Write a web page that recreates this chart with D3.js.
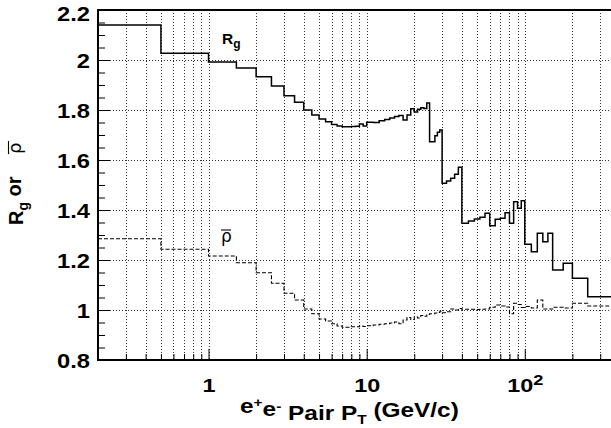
<!DOCTYPE html>
<html>
<head>
<meta charset="utf-8">
<script src="https://cdn.jsdelivr.net/npm/d3@7"></script>
<style>
  html, body { margin: 0; padding: 0; background: #fff; }
  svg { display: block; font-family: "Liberation Sans", Arial, Helvetica, sans-serif; }
</style>
</head>
<body>
<svg id="chart" width="611" height="428"></svg>
<script>
// ---- data ----
const binEdges = [0.2, 0.5, 1.0, 1.5, 2.0, 2.5, 3.0, 3.5, 4.0, 4.5, 5.0, 5.5, 6.0, 6.5, 7.0, 7.5, 8.0, 8.5, 9.0, 9.5,
  10, 11, 12, 13, 14, 15, 16, 17, 18, 19, 20, 21, 22, 23, 24, 25, 27, 28, 29, 30, 32, 34, 36, 38, 40,
  44, 48, 52, 56, 60, 65, 70, 75, 80, 85, 90, 95, 100, 110, 120, 130, 140, 150, 175, 200, 250, 400];

const rgValues = [2.140, 2.027, 1.992, 1.968, 1.933, 1.896, 1.857, 1.831, 1.800, 1.780,
  1.764, 1.753, 1.742, 1.736, 1.733, 1.733, 1.734, 1.735, 1.744, 1.736,
  1.751, 1.750, 1.757, 1.762, 1.768, 1.774, 1.778, 1.760, 1.780, 1.805,
  1.792, 1.803, 1.809, 1.806, 1.828, 1.673, 1.697, 1.711, 1.720,
  1.507, 1.516, 1.527, 1.543, 1.571,
  1.347, 1.356, 1.364, 1.371, 1.387,
  1.337, 1.363, 1.367, 1.389, 1.347, 1.433, 1.407, 1.437,
  1.263, 1.233, 1.307, 1.273, 1.307, 1.160, 1.187, 1.127, 1.053];

const rhoValues = [1.285, 1.243, 1.216, 1.189, 1.149, 1.107, 1.067, 1.040, 1.004, 0.985,
  0.964, 0.956, 0.945, 0.936, 0.931, 0.931, 0.933, 0.933, 0.936, 0.934,
  0.937, 0.940, 0.943, 0.945, 0.948, 0.952, 0.945, 0.960, 0.970, 0.962,
  0.972, 0.968, 0.978, 0.975, 0.982, 0.985, 0.988, 0.990, 0.995,
  0.989, 0.993, 1.004, 1.000, 1.006,
  1.003, 1.003, 1.002, 1.003, 1.004,
  1.011, 1.020, 1.016, 1.012, 0.985, 1.027, 1.022, 1.010,
  1.014, 1.008, 1.040, 1.004, 1.004, 1.011, 1.008, 1.027, 1.016];

const xMajorTicks = [1, 10, 100];
const xTickLabels = ["1", "10", "10^2"];
const xMinorTicks = [0.3, 0.4, 0.5, 0.6, 0.7, 0.8, 0.9, 2, 3, 4, 5, 6, 7, 8, 9,
  20, 30, 40, 50, 60, 70, 80, 90, 200, 300];
const yMajorTicks = [0.8, 1.0, 1.2, 1.4, 1.6, 1.8, 2.0, 2.2];
const yTickLabels = ["0.8", "1", "1.2", "1.4", "1.6", "1.8", "2", "2.2"];
const yMinorTicks = d3.range(0.85, 2.2, 0.05).map(v => +v.toFixed(2)).filter(v => !yMajorTicks.some(m => Math.abs(m - v) < 1e-6));

// ---- layout ----
const svg = d3.select("#chart");
const pL = 98, pR = 620, pT = 10, pB = 360;
const x = d3.scaleLog().domain([0.2, 400]).range([pL, pR]);
const y = d3.scaleLinear().domain([0.8, 2.2]).range([pB, pT]);

svg.append("defs").append("clipPath").attr("id", "plotclip")
  .append("rect").attr("x", pL).attr("y", pT).attr("width", pR - pL).attr("height", pB - pT);

// grid
const grid = svg.append("g").attr("stroke", "#000").attr("stroke-width", 1)
  .attr("stroke-dasharray", "1,2").attr("shape-rendering", "crispEdges");
grid.selectAll("line.vx").data(xMajorTicks.concat(xMinorTicks)).join("line")
  .attr("x1", d => Math.round(x(d)) + 0.5).attr("x2", d => Math.round(x(d)) + 0.5)
  .attr("y1", pT).attr("y2", pB).attr("stroke-opacity", 0.8);
grid.selectAll("line.hy").data(yMajorTicks.slice(1, -1)).join("line")
  .attr("y1", d => Math.round(y(d)) + 0.5).attr("y2", d => Math.round(y(d)) + 0.5)
  .attr("x1", pL).attr("x2", pR).attr("stroke-opacity", 0.8);

// histograms
function stepPoints(vals) {
  const pts = [];
  vals.forEach((v, i) => { pts.push([binEdges[i], v]); pts.push([binEdges[i + 1], v]); });
  return pts;
}
const line = d3.line().x(d => x(d[0])).y(d => y(d[1]));
const plot = svg.append("g").attr("clip-path", "url(#plotclip)");
plot.append("path").attr("d", line(stepPoints(rhoValues)))
  .attr("fill", "none").attr("stroke", "#000").attr("stroke-width", 1.1)
  .attr("stroke-dasharray", "4,2");
plot.append("path").attr("d", line(stepPoints(rgValues)))
  .attr("fill", "none").attr("stroke", "#000").attr("stroke-width", 1.5);

// axes
const ySX = 1.13;
const yAxis = svg.append("g").attr("transform", `translate(${pL},0)`)
  .call(d3.axisLeft(y).tickValues(yMajorTicks).tickFormat((d, i) => yTickLabels[i])
    .tickSizeInner(-12).tickSizeOuter(0).tickPadding(8));
svg.append("g").attr("transform", `translate(${pL},0)`)
  .call(d3.axisLeft(y).tickValues(yMinorTicks).tickFormat("").tickSizeInner(-7).tickSizeOuter(0))
  .select(".domain").remove();
yAxis.selectAll(".tick text")
  .attr("font-size", "21px").attr("font-weight", "bold")
  .attr("font-family", "Liberation Sans, Arial, sans-serif").attr("fill", "#000")
  .attr("x", -8 / ySX).attr("transform", `scale(${ySX},1)`)
  .attr("dy", (d, i) => i === yMajorTicks.length - 1 ? "0.48em" : "0.34em");

const xSX = 1.3;
const xAxis = svg.append("g").attr("transform", `translate(0,${pB})`)
  .call(d3.axisBottom(x).tickValues(xMajorTicks).tickFormat("")
    .tickSizeInner(-11).tickSizeOuter(0).tickPadding(19));
svg.append("g").attr("transform", `translate(0,${pB})`)
  .call(d3.axisBottom(x).tickValues(xMinorTicks).tickFormat("").tickSizeInner(-6).tickSizeOuter(0))
  .select(".domain").remove();
xAxis.selectAll(".tick text").each(function (d, i) {
  const t = d3.select(this).attr("font-size", "18px").attr("font-weight", "bold")
    .attr("font-family", "Liberation Sans, Arial, sans-serif").attr("fill", "#000")
    .attr("transform", `scale(${xSX},1)`);
  const parts = xTickLabels[i].split("^");
  t.text(parts[0]);
  if (parts[1]) t.append("tspan").attr("dy", "-0.5em").attr("font-size", "14px").text(parts[1]);
});
svg.selectAll(".tick line").attr("stroke", "#000").attr("stroke-width", 1);
svg.selectAll(".domain").attr("stroke", "#000");

// frame
svg.append("rect").attr("x", pL).attr("y", pT).attr("width", pR - pL).attr("height", pB - pT)
  .attr("fill", "none").attr("stroke", "#000").attr("stroke-width", 2);

// x axis title
const xt = svg.append("text").attr("transform", "translate(240,413) scale(1.19,1)")
  .attr("font-size", "20.5px").attr("font-weight", "bold").attr("fill", "#000");
xt.append("tspan").text("e");
xt.append("tspan").attr("dy", "-0.45em").attr("font-size", "13px").text("+");
xt.append("tspan").attr("dy", "0.45em").text("e");
xt.append("tspan").attr("dy", "-0.45em").attr("font-size", "13px").text("-");
xt.append("tspan").attr("dy", "0.45em").text(" Pair P");
xt.append("tspan").attr("dy", "0.33em").attr("font-size", "13px").text("T");
xt.append("tspan").attr("dy", "-0.33em").text(" (GeV/c)");

// rho with bar helper
function rhoBar(g, px, py, fs, barUp, barLen) {
  const t = g.append("text").attr("x", px).attr("y", py).attr("font-size", fs + "px")
    .attr("font-family", "DejaVu Sans, sans-serif").attr("fill", "#000").text("ρ");
  const w = barLen || t.node().getComputedTextLength();
  g.append("line").attr("x1", px).attr("x2", px + w)
    .attr("y1", py - barUp).attr("y2", py - barUp)
    .attr("stroke", "#000").attr("stroke-width", 1.1);
}

// y axis title
const ytg = svg.append("g").attr("transform", "translate(23,225) rotate(-90)");
const yt = ytg.append("text").attr("font-size", "20px").attr("font-weight", "bold").attr("fill", "#000");
yt.append("tspan").text("R");
yt.append("tspan").attr("dy", "0.35em").attr("font-size", "14px").text("g");
yt.append("tspan").attr("dy", "-0.35em").text(" or");
rhoBar(ytg, 71, -2, 18, 12.5, 13);

// in-plot labels
const lr = svg.append("text").attr("x", 222).attr("y", 44)
  .attr("font-size", "15.5px").attr("font-weight", "bold").attr("fill", "#000");
lr.append("tspan").text("R");
lr.append("tspan").attr("dy", "0.35em").attr("font-size", "12px").text("g");

rhoBar(svg, 221, 242, 17, 12, 10);
</script>
</body>
</html>
